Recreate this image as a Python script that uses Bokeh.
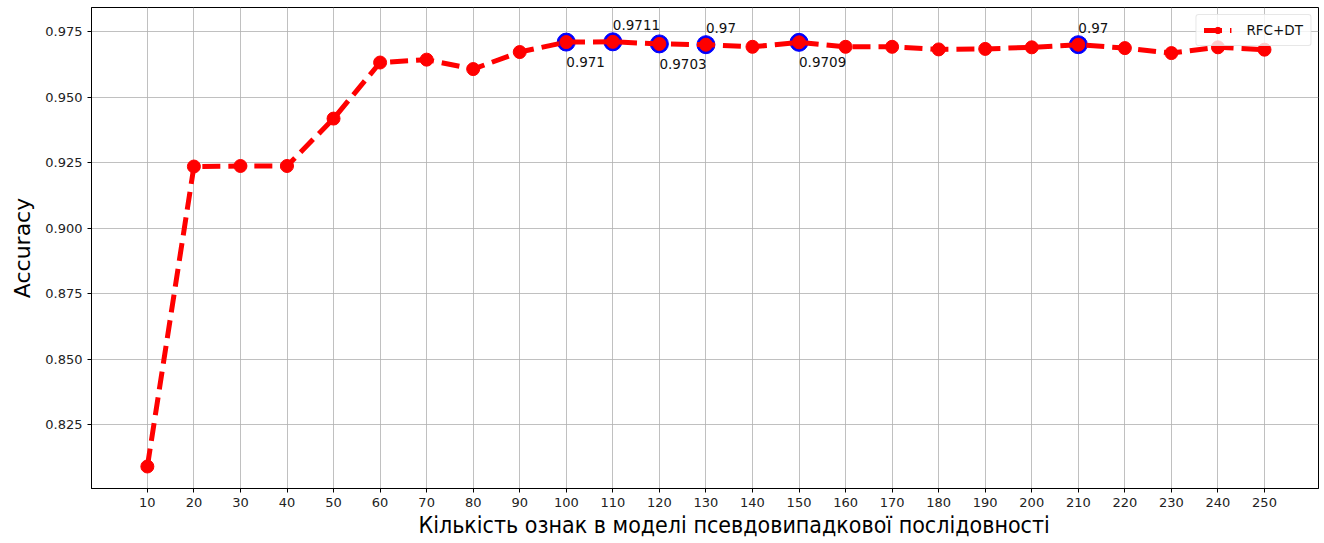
from bokeh.plotting import figure
from bokeh.models import FixedTicker, PrintfTickFormatter, Range1d, Legend, LegendItem, Title
from bokeh.embed import file_html
from bokeh.resources import INLINE
from bokeh.core.properties import value

# Number of features in the pseudo-random sequence model vs. accuracy
features = [10, 20, 30, 40, 50, 60, 70, 80, 90, 100, 110, 120, 130,
            140, 150, 160, 170, 180, 190, 200, 210, 220, 230, 240, 250]
accuracy = [0.809, 0.9235, 0.9237, 0.9237, 0.9418, 0.9632, 0.9643, 0.9607,
            0.9672, 0.971, 0.9711, 0.9703, 0.97, 0.9692, 0.9709, 0.9692,
            0.9692, 0.9682, 0.9684, 0.969, 0.97, 0.9687, 0.9668, 0.969, 0.9681]

# Highlighted (best) points and their labels
best_x = [100, 110, 120, 130, 150, 210]
best_y = [0.971, 0.9711, 0.9703, 0.97, 0.9709, 0.97]
best_text = ["0.971", "0.9711", "0.9703", "0.97", "0.9709", "0.97"]
label_above = [False, True, False, True, False, True]

x_ticks = list(range(10, 260, 10))
y_ticks = [0.825, 0.85, 0.875, 0.9, 0.925, 0.95, 0.975]

x_title = "Кількість ознак в моделі  псевдовипадкової послідовності"
y_title = "Accuracy"

p = figure(width=1324, height=543, output_backend="svg", toolbar_location=None,
           x_range=Range1d(-2.0, 261.6), y_range=Range1d(0.8006, 0.9842),
           min_border_left=91, min_border_right=6, min_border_top=7, min_border_bottom=55)
p.background_fill_color = "white"
p.border_fill_color = "white"
p.outline_line_color = "black"
p.outline_line_width = 1

# axes
for ax in (p.xaxis[0], p.yaxis[0]):
    ax.axis_line_color = "black"
    ax.major_tick_line_color = "black"
    ax.major_tick_out = 4
    ax.major_tick_in = 0
    ax.minor_tick_line_color = None
    ax.major_label_text_font = "DejaVu Sans"
    ax.major_label_text_font_size = "13px"
    ax.major_label_text_color = "#222222"

p.xaxis[0].ticker = FixedTicker(ticks=x_ticks)
p.yaxis[0].ticker = FixedTicker(ticks=y_ticks)
p.yaxis[0].formatter = PrintfTickFormatter(format="%.3f")

p.yaxis[0].axis_label = y_title
p.yaxis[0].axis_label_text_font = "DejaVu Sans"
p.yaxis[0].axis_label_text_font_size = "22px"
p.yaxis[0].axis_label_text_font_style = "normal"
p.yaxis[0].axis_label_text_color = "black"
p.yaxis[0].axis_label_standoff = 7

# x title, placed as a bottom title so it can sit right of the frame centre
p.add_layout(Title(text=x_title, align="left", offset=327, standoff=0,
                   text_font="'Liberation Sans Narrow', 'DejaVu Sans Condensed', 'Liberation Sans', sans-serif",
                   text_font_size="23px", text_font_style="normal", text_color="black"),
             "below")

p.grid.grid_line_color = "#b0b0b0"
p.grid.grid_line_width = 1
p.grid.grid_line_alpha = 0.8

# highlighted points underneath the main series
p.scatter(best_x, best_y, size=18, color="blue", marker="circle")

line = p.line(features, accuracy, line_color="red", line_width=5, line_dash="18 8")
dots = p.scatter(features, accuracy, size=13, color="red", marker="circle")

above_x = [x for x, a in zip(best_x, label_above) if a]
above_y = [y for y, a in zip(best_y, label_above) if a]
above_t = [t for t, a in zip(best_text, label_above) if a]
below_x = [x for x, a in zip(best_x, label_above) if not a]
below_y = [y for y, a in zip(best_y, label_above) if not a]
below_t = [t for t, a in zip(best_text, label_above) if not a]

p.text(above_x, above_y, text=above_t, text_font=value("DejaVu Sans"), text_font_size="13.5px",
       text_color="#111111", text_align="left", text_baseline="bottom", y_offset=-12)
p.text(below_x, below_y, text=below_t, text_font=value("DejaVu Sans"), text_font_size="13.5px",
       text_color="#111111", text_align="left", text_baseline="top", y_offset=15)

legend = Legend(items=[LegendItem(label="RFC+DT", renderers=[line, dots])],
                location="top_right")
legend.label_text_font = "DejaVu Sans"
legend.label_text_font_size = "13.5px"
legend.label_text_color = "#111111"
legend.border_line_color = "#d0d0d0"
legend.border_line_width = 1
legend.border_radius = 3
legend.background_fill_alpha = 0.8
legend.glyph_width = 28
legend.glyph_height = 16
legend.margin = 7
legend.padding = 7
legend.spacing = 0
legend.label_standoff = 15
p.add_layout(legend, "center")

open("out.html", "w").write(file_html(p, INLINE))
